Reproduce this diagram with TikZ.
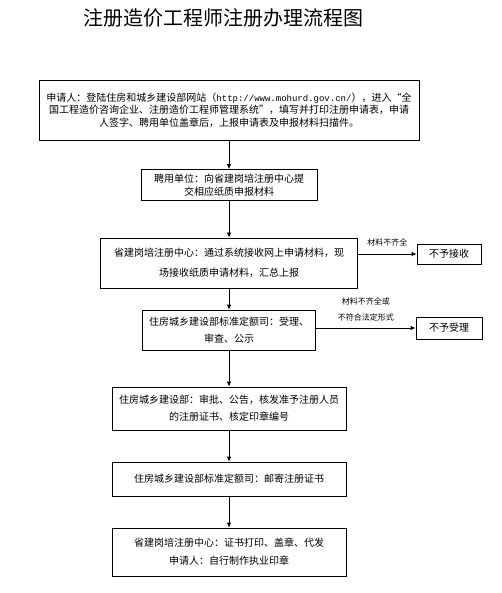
\documentclass[tikz,border=0pt]{standalone}
\usepackage{fontspec}
\setmainfont{Noto Sans CJK SC}
\setmonofont{Liberation Mono}
\usepackage{tikz}
\usetikzlibrary{arrows.meta}

\begin{document}
\begin{tikzpicture}[x = 1pt, y = -1pt, line width = 0.8pt,
    box/.style = {rectangle, draw, align = center, inner sep = 1pt, font = \fontsize{10}{12.5}\selectfont},
    arr/.style = {-{Latex[length = 5pt, width = 4.5pt]}},
    note/.style = {inner sep = 1pt, align = center, font = \fontsize{8}{16}\selectfont}]
\useasboundingbox (0,0) rectangle (501,593);
\draw (223,18) node[font = \fontsize{20}{24}\selectfont](t){注册造价工程师注册办理流程图}
    (229,110) node[box, minimum width = 380, minimum height = 60](b1){申请人：登陆住房和城乡建设部网站（{\fontsize{9}{12.5}\ttfamily http://www.mohurd.gov.cn/}），进入“全\\国工程造价咨询企业、注册造价工程师管理系统”，填写并打印注册申请表，申请\\人签字、聘用单位盖章后，上报申请表及申报材料扫描件。}
    (229,185) node[box, minimum width = 176, minimum height = 31](b2){聘用单位：向省建岗培注册中心提\\交相应纸质申报材料}
    (229,263) node[box, font = \fontsize{10}{20}\selectfont, minimum width = 257, minimum height = 50](b3){省建岗培注册中心：通过系统接收网上申请材料，现\\场接收纸质申请材料，汇总上报}
    (449,254) node[box, minimum width = 64, minimum height = 20](r1){不予接收}
    (229,330) node[box, font = \fontsize{10}{16.5}\selectfont, minimum width = 173, minimum height = 40](b4){住房城乡建设部标准定额司：受理、\\审查、公示}
    (449,328) node[box, minimum width = 66, minimum height = 22](r2){不予受理}
    (229,408.5) node[box, font = \fontsize{10}{17}\selectfont, minimum width = 234, minimum height = 43](b5){住房城乡建设部：审批、公告，核发准予注册人员\\的注册证书、核定印章编号}
    (229,479) node[box, minimum width = 234, minimum height = 34](b6){住房城乡建设部标准定额司：邮寄注册证书}
    (229,552) node[box, font = \fontsize{10}{18}\selectfont, minimum width = 234, minimum height = 48](b7){省建岗培注册中心：证书打印、盖章、代发\\申请人：自行制作执业印章};
    \draw [arr] (b1) -- (b2);
    \draw [arr] (b2) -- (b3);
    \draw [arr] (b3) -- (b4);
    \draw [arr] (b4) -- (b5);
    \draw [arr] (b5) -- (b6);
    \draw [arr] (b6) -- (b7);
    \draw [arr] (b3.east |- r1.west) -- (r1.west) node[midway, above = 6pt, note] {材料不齐全};
    \draw [arr] (b4.east |- r2.west) -- (r2.west) node[midway, above = 5pt, note] {材料不齐全或\\不符合法定形式};
\end{tikzpicture}
\end{document}
